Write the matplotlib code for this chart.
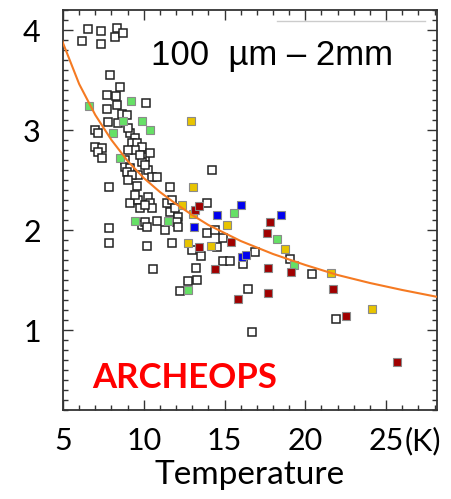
"""
Dust spectral index vs temperature (100 um - 2mm), ARCHEOPS sources.
"""
import matplotlib.pyplot as plt
from matplotlib.ticker import MultipleLocator

plt.rcParams['font.family'] = ['Lato', 'DejaVu Sans']

# open squares (black edge, no fill)
open_T = [6.18, 6.55, 7.35, 7.35, 8.34, 8.22, 8.72, 7.91, 8.53, 7.72, 8.28, 8.34,
          10.14, 7.72, 8.65, 8.96, 8.41, 7.79, 6.98, 7.17, 9.15, 9.46, 9.27, 9.58,
          9.89, 9.02, 6.98, 7.41, 7.17, 7.41, 8.84, 8.84, 9.15, 10.08, 10.39, 9.89,
          10.26, 10.51, 9.46, 9.77, 9.02, 10.08, 9.64, 8.96, 9.27, 10.82, 7.85, 9.58,
          9.02, 11.63, 14.23, 9.15, 9.64, 9.77, 10.26, 10.39, 10.51, 10.08, 9.46,
          11.44, 11.75, 11.63, 12.12, 11.93, 13.92, 9.89, 10.08, 10.20, 10.82, 12.06,
          12.12, 11.32, 13.92, 14.41, 14.91, 7.85, 7.85, 10.20, 11.75, 12.99, 13.54,
          14.54, 16.89, 14.91, 15.34, 16.15, 19.06, 20.42, 10.57, 13.24, 13.30, 12.74,
          12.24, 16.46, 21.90, 16.70]
open_beta = [3.89, 4.01, 3.99, 3.86, 4.02, 3.93, 3.97, 3.55, 3.43, 3.35, 3.34, 3.25,
             3.27, 3.21, 3.16, 3.15, 3.07, 3.08, 3.00, 2.97, 2.97, 2.92, 2.87, 2.87,
             2.83, 3.02, 2.83, 2.82, 2.78, 2.72, 2.70, 2.63, 2.62, 2.73, 2.77, 2.68,
             2.60, 2.53, 2.80, 2.75, 2.80, 2.65, 2.55, 2.58, 2.55, 2.53, 2.43, 2.44,
             2.50, 2.43, 2.60, 2.27, 2.30, 2.22, 2.33, 2.27, 2.22, 2.25, 2.35,
             2.27, 2.30, 2.18, 2.13, 2.22, 2.27, 2.05, 2.08, 2.03, 2.09, 2.08,
             2.03, 2.00, 1.97, 2.00, 1.92, 2.02, 1.87, 1.84, 1.87, 1.80, 1.74,
             1.83, 1.78, 1.69, 1.69, 1.66, 1.71, 1.56, 1.61, 1.62, 1.50, 1.49,
             1.39, 1.41, 1.11, 0.98]

green_T = [6.61, 9.21, 8.72, 9.89, 8.10, 10.39, 8.53, 9.46, 11.50, 15.59, 18.25, 19.30, 12.74]
green_beta = [3.24, 3.29, 3.09, 3.09, 2.97, 3.00, 2.72, 2.09, 2.09, 2.17, 1.91, 1.65, 1.40]

yellow_T = [12.93, 13.02, 12.37, 13.05, 15.15, 12.74, 14.16, 18.75, 21.59, 24.13]
yellow_beta = [3.09, 2.43, 2.25, 2.16, 2.05, 1.87, 1.84, 1.81, 1.57, 1.21]

blue_T = [16.02, 14.54, 18.50, 13.11, 16.08, 16.33]
blue_beta = [2.25, 2.15, 2.15, 2.03, 1.73, 1.75]

red_T = [13.17, 13.42, 17.82, 17.63, 15.40, 13.42, 14.41, 17.69, 19.12, 17.69,
         21.72, 15.84, 22.52, 25.68]
red_beta = [2.20, 2.24, 2.08, 1.97, 1.88, 1.83, 1.61, 1.62, 1.58, 1.37,
            1.41, 1.31, 1.14, 0.68]

# fitted anti-correlation curve
fit_T = [4.9, 5, 6, 7, 8, 9, 10, 11, 12, 13, 14, 15, 16, 18, 20, 22, 24, 26, 28.2]
fit_beta = [3.92, 3.87, 3.46, 3.15, 2.90, 2.69, 2.52, 2.38, 2.26, 2.15, 2.05,
            1.97, 1.89, 1.76, 1.65, 1.55, 1.47, 1.40, 1.33]

x_ticks = [5, 10, 15, 20, 25]
x_tick_labels = ['5', '10', '15', '20', '25']
y_ticks = [1, 2, 3, 4]


fig = plt.figure(figsize=(4.52, 4.99), dpi=100)
ax = fig.add_axes([63 / 452, 89 / 499, 374 / 452, 400 / 499])

ms = 6.3
ax.plot(open_T, open_beta, 's', ms=ms, mfc='white', mec='#222222', mew=1.1,
        linestyle='none', zorder=3)
colored = [
    (green_T, green_beta, '#66e066'),
    (yellow_T, yellow_beta, '#e8c400'),
    (blue_T, blue_beta, '#0000ee'),
    (red_T, red_beta, '#a00000'),
]
for T, beta, c in colored:
    ax.plot(T, beta, 's', ms=ms, mfc=c, mec='#8a8a8a', mew=0.8,
            linestyle='none', zorder=4)

ax.plot(fit_T, fit_beta, color='#f57a22', lw=1.5, zorder=5)

ax.set_xlim(5, 28.15)
ax.set_ylim(0.2, 4.2)

ax.set_xticks(x_ticks)
ax.set_xticklabels(x_tick_labels)
ax.set_yticks(y_ticks)
ax.xaxis.set_minor_locator(MultipleLocator(1))
ax.yaxis.set_minor_locator(MultipleLocator(0.1))
ax.tick_params(which='both', direction='in', top=True, right=True,
               color='#333333', width=1)
ax.tick_params(which='major', length=7)
ax.tick_params(which='minor', length=3.5)
ax.tick_params(axis='x', which='major', labelsize=22, pad=12)
ax.tick_params(axis='y', which='major', labelsize=22, pad=16)
for s in ax.spines.values():
    s.set_linewidth(1.3)
    s.set_color('#333333')

ax.annotate('(K)', xy=(25, 0), xycoords=('data', 'axes fraction'),
            xytext=(13, -12), textcoords='offset points',
            ha='left', va='top', fontsize=22)
ax.set_xlabel('Temperature', fontsize=24, labelpad=4)

ax.text(0.235, 0.887, '100  µm – 2mm', transform=ax.transAxes,
        fontsize=25, ha='left', va='center',
        family=['Liberation Sans', 'DejaVu Sans'])
ax.text(0.078, 0.081, 'ARCHEOPS', transform=ax.transAxes, color='#ff0000',
        fontsize=25, fontweight='bold', ha='left', va='center')
ax.plot([0.572, 0.968], [0.973, 0.973], color='#cccccc', lw=1,
        transform=ax.transAxes, zorder=1)

fig.savefig('out.png', dpi=100)
